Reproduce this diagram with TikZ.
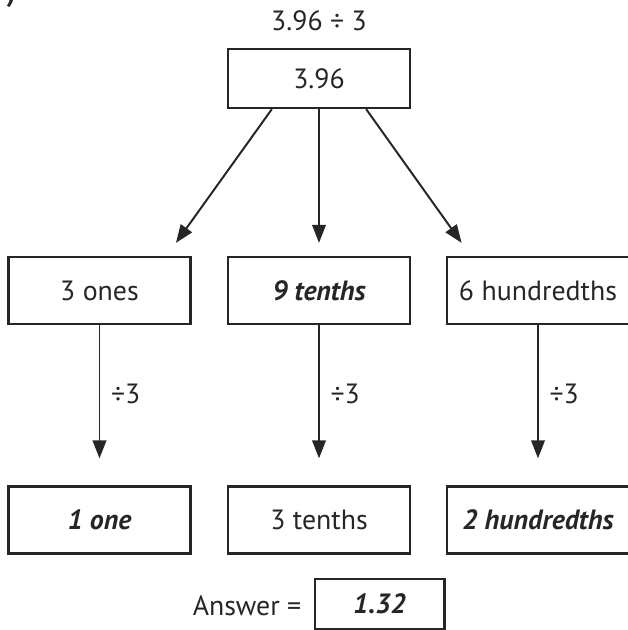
\documentclass[tikz,border=0pt]{standalone}
\usepackage{fontspec}
\setmainfont{PT Sans}
\usetikzlibrary{arrows.meta,calc}
\begin{document}
\begin{tikzpicture}[x=0.025cm, y=-0.025cm,
    every node/.style={font=\fontsize{19.8}{23}\selectfont, text=black!85},
    box/.style={draw=black!85, line width=1.6pt, minimum width=4.55cm, minimum height=1.675cm, inner sep=0pt},
    hand/.style={font=\fontsize{19.8}{23}\selectfont\bfseries\itshape},
    every edge/.style={draw=black!85, line width=1.4pt}]
        \useasboundingbox (0,0) rectangle (628,630);
        \node[font=\fontsize{19.8}{23}\selectfont\bfseries, anchor=base east, inner sep=0pt] (q) at (16,2) {)};
        \node (t) at (319,21) {3.96 ÷ 3};
        \node[box, minimum height=1.475cm] (0) at (319,78.5) {3.96};
        \node[box] (1) at (99.5,290.5) {3 ones};
        \node[box, hand] (2) at (319,290.5) {9 tenths};
        \node[box] (3) at (538,290.5) {6 hundredths};
        \node[box, hand] (4) at (99.5,520) {1 one};
        \node[box] (5) at (319,520) {3 tenths};
        \node[box, hand] (6) at (538,520) {2 hundredths};
        \node (a) at (247,606) {Answer =};
        \node[box, hand, line width=2.1pt, minimum width=3.225cm, minimum height=1.25cm] (r) at (379.5,604) {1.32};
        
        \coordinate (0l) at ($(0.south west)+(45,0)$);
        \coordinate (0r) at ($(0.south east)+(-45,0)$);
        \coordinate (1t) at ($(1.north east)+(-25,0)$);
        \coordinate (3t) at ($(3.north west)+(25,0)$);
        \draw[>={Triangle[length=4.5mm, width=3.4mm]}] (0l) edge[->, shorten >=0.4cm] (1t);
        \draw[>={Triangle[length=4.5mm, width=3.4mm]}] (0) edge[->, shorten >=0.325cm] (2);
        \draw[>={Triangle[length=4.5mm, width=3.4mm]}] (0r) edge[->, shorten >=0.4cm] (3t);
        \draw[>={Triangle[length=4.5mm, width=3.4mm]}] (1) edge[->, shorten >=0.675cm] node[pos=.43, right=0.15cm] {÷3} (4);
        \draw[>={Triangle[length=4.5mm, width=3.4mm]}] (2) edge[->, shorten >=0.675cm] node[pos=.43, right=0.15cm] {÷3} (5);
        \draw[>={Triangle[length=4.5mm, width=3.4mm]}] (3) edge[->, shorten >=0.675cm] node[pos=.43, right=0.15cm] {÷3} (6);
      \end{tikzpicture}
\end{document}
